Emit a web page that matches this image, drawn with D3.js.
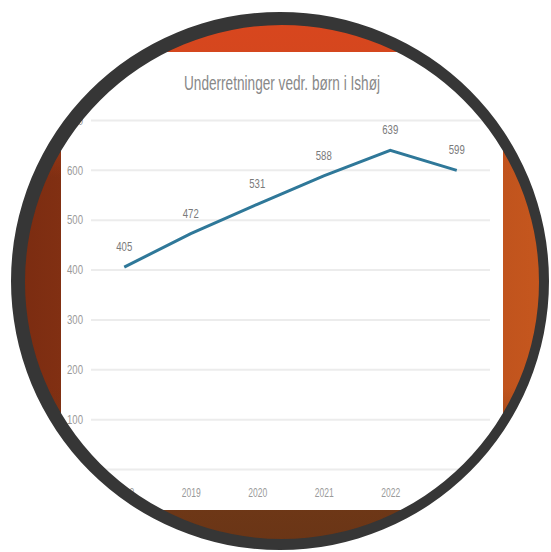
<!DOCTYPE html>
<html><head><meta charset="utf-8">
<script src="https://cdn.jsdelivr.net/npm/d3@7"></script>
<style>html,body{margin:0;padding:0;background:#fff;overflow:hidden}</style>
</head><body>
<script>
const title = "Underretninger vedr. børn i Ishøj";
const years = ["2018","2019","2020","2021","2022","2023"];
const values = [405, 472, 531, 588, 639, 599];
const yTicks = [0,100,200,300,400,500,600,700];

const W = 551, H = 552;
const svg = d3.select("body").append("svg").attr("width", W).attr("height", H);
const defs = svg.append("defs");
const cx = 282, cy = 282, rIn = 257;
const ocx = 280, ocy = 281, rOut = 269;

defs.append("clipPath").attr("id", "clip")
  .append("circle").attr("cx", cx).attr("cy", cy).attr("r", rIn + 1);

const gh = defs.append("linearGradient").attr("id", "gh")
  .attr("gradientUnits", "userSpaceOnUse").attr("x1", 20).attr("y1", 0).attr("x2", 545).attr("y2", 0);
gh.append("stop").attr("offset", 0).attr("stop-color", "#7b2c11");
gh.append("stop").attr("offset", 0.5).attr("stop-color", "#a3431a");
gh.append("stop").attr("offset", 1).attr("stop-color", "#c6571e");

const gv = defs.append("linearGradient").attr("id", "gv")
  .attr("gradientUnits", "userSpaceOnUse").attr("x1", 0).attr("y1", 20).attr("x2", 0).attr("y2", 545);
gv.append("stop").attr("offset", 0).attr("stop-color", "#d8461e").attr("stop-opacity", 1);
gv.append("stop").attr("offset", 0.08).attr("stop-color", "#d4471e").attr("stop-opacity", 1);
gv.append("stop").attr("offset", 0.3).attr("stop-color", "#c8481c").attr("stop-opacity", 0);
gv.append("stop").attr("offset", 0.7).attr("stop-color", "#6f3817").attr("stop-opacity", 0);
gv.append("stop").attr("offset", 0.9).attr("stop-color", "#6f3817").attr("stop-opacity", 1);
gv.append("stop").attr("offset", 1).attr("stop-color", "#6a3516").attr("stop-opacity", 1);

const g = svg.append("g").attr("clip-path", "url(#clip)");
g.append("rect").attr("x", 0).attr("y", 0).attr("width", W).attr("height", H).attr("fill", "url(#gh)");
g.append("rect").attr("x", 0).attr("y", 0).attr("width", W).attr("height", H).attr("fill", "url(#gv)");
g.append("rect").attr("x", 61).attr("y", 52).attr("width", 442).attr("height", 458).attr("fill", "#ffffff");

const x = d3.scalePoint().domain(years).range([91, 490]).padding(0.5);
const y = d3.scaleLinear().domain([0, 700]).range([469, 120]);

// Y axis with gridlines
const yAxis = g.append("g").attr("transform", "translate(91,0)")
  .call(d3.axisLeft(y).tickValues(yTicks).tickSize(-399).tickPadding(8).tickFormat(d3.format("d")));
yAxis.select(".domain").remove();
yAxis.selectAll(".tick line").attr("stroke", "#ececec").attr("stroke-width", 2);
yAxis.selectAll(".tick text")
  .attr("fill", "#9a9a9a").attr("font-family", "Liberation Sans, Arial, sans-serif")
  .attr("font-size", 13).attr("textLength", d => d === 0 ? 6 : 16).attr("lengthAdjust", "spacingAndGlyphs");

// X axis
const xAxis = g.append("g").attr("transform", "translate(0,469)")
  .call(d3.axisBottom(x).tickSize(0).tickPadding(19));
xAxis.select(".domain").remove();
xAxis.selectAll(".tick text")
  .attr("fill", "#9a9a9a").attr("font-family", "Liberation Sans, Arial, sans-serif")
  .attr("font-size", 13).attr("textLength", 19).attr("lengthAdjust", "spacingAndGlyphs");

// Line
const pts = years.map((yr, i) => ({yr, v: values[i]}));
g.append("path").datum(pts)
  .attr("fill", "none").attr("stroke", "#2f7899").attr("stroke-width", 3)
  .attr("stroke-linejoin", "miter")
  .attr("d", d3.line().x(d => x(d.yr)).y(d => y(d.v)));

// Data labels
g.selectAll(".dl").data(pts).enter().append("text")
  .attr("x", d => x(d.yr)).attr("y", d => y(d.v) - 16)
  .attr("text-anchor", "middle")
  .attr("fill", "#7a7a7a").attr("font-family", "Liberation Sans, Arial, sans-serif")
  .attr("font-size", 13).attr("textLength", 16).attr("lengthAdjust", "spacingAndGlyphs")
  .text(d => d.v);

// Title
g.append("text").attr("x", 282).attr("y", 89.5).attr("text-anchor", "middle")
  .attr("fill", "#888888").attr("font-family", "Liberation Sans, Arial, sans-serif")
  .attr("font-size", 20).attr("textLength", 196).attr("lengthAdjust", "spacingAndGlyphs")
  .text(title);

// Ring
const ringPath = d3.path();
ringPath.moveTo(ocx + rOut, ocy); ringPath.arc(ocx, ocy, rOut, 0, 2 * Math.PI);
ringPath.moveTo(cx + rIn, cy); ringPath.arc(cx, cy, rIn, 0, 2 * Math.PI);
svg.append("path").attr("d", ringPath.toString()).attr("fill", "#363636").attr("fill-rule", "evenodd");
</script>
</body></html>
